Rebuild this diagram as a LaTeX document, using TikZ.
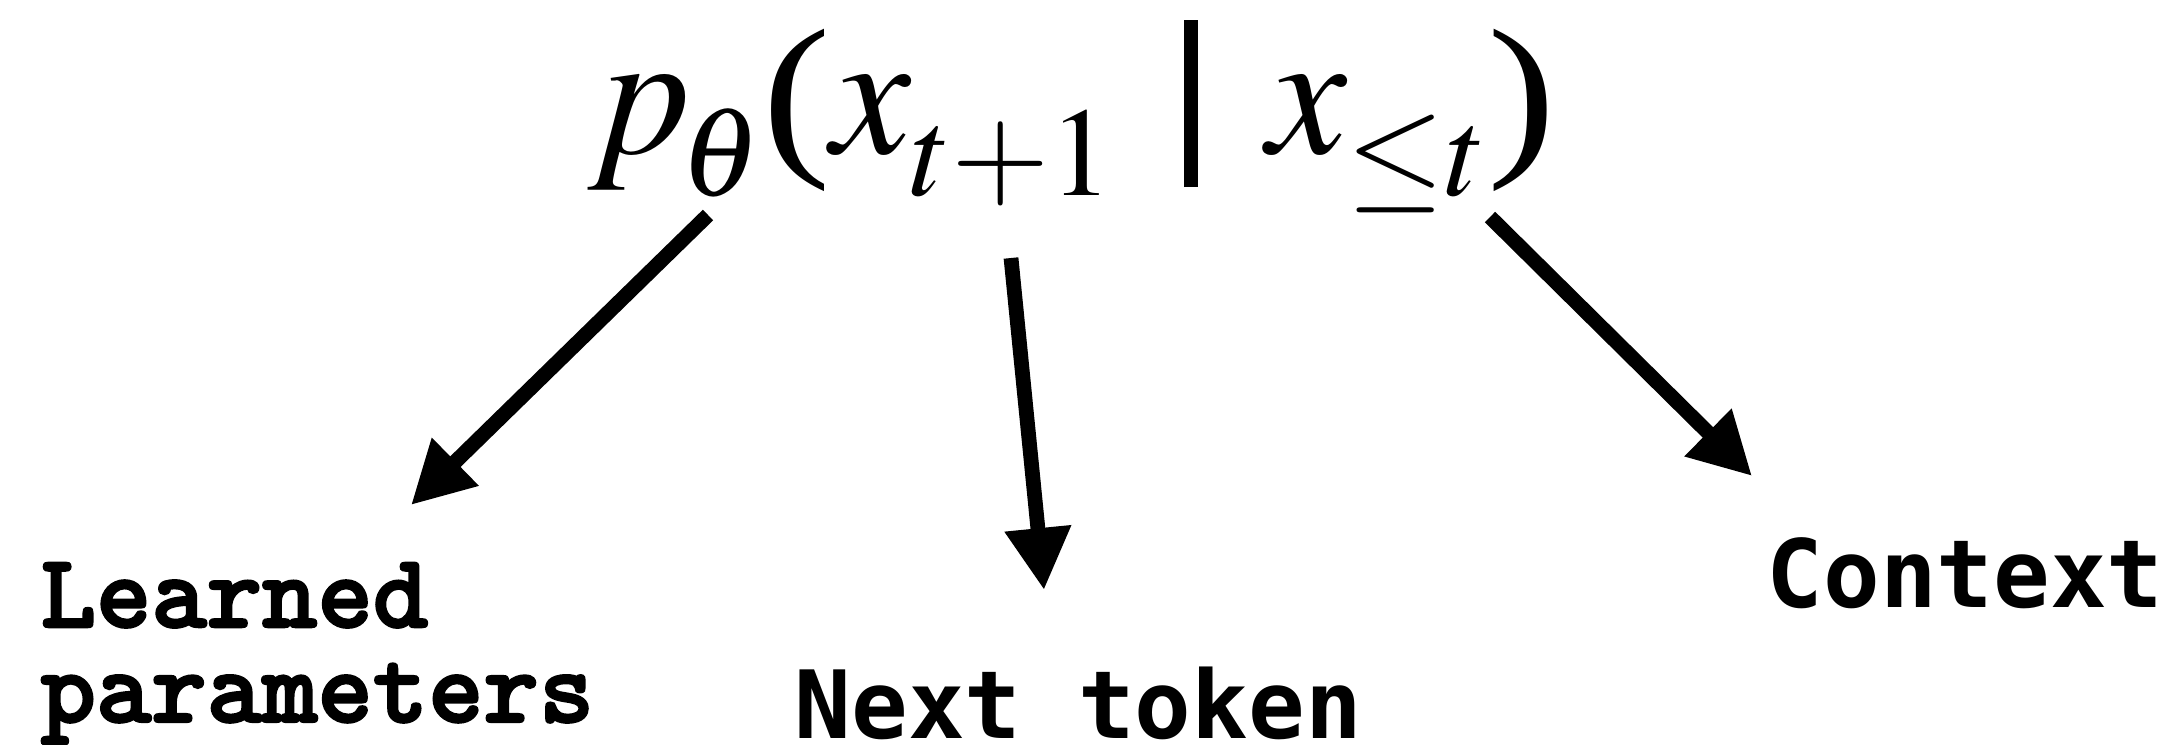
\documentclass[tikz,border=0pt]{standalone}
\usepackage{amsmath}
\usepackage{graphicx}
\usepackage{mathptmx}
\usepackage[no-math]{fontspec}
\usetikzlibrary{arrows.meta,positioning}
\newfontfamily\labelmono{DejaVu Sans Mono}
\newfontfamily\slabmono[FakeBold=2.2]{lmmonolt10-bold.otf}
\newfontfamily\timesfont{Liberation Serif}
\DeclareMathSizes{51}{51}{36}{26}
\newcommand{\lowsub}[1]{_{\lower4.5pt\hbox{$\scriptstyle #1$}}}
\newcommand{\lparen}{\mathopen{\hbox{\scalebox{1.15}[1]{\timesfont(}}}}
\newcommand{\rparen}{\mathclose{\hbox{\scalebox{1.15}[1]{\timesfont)}}}}
\newcommand{\condbar}{\mkern3mu\mathrel{\rule[-9.7pt]{3.8pt}{47.5pt}}\mkern3mu}

\tikzset{
  formula/.style={inner sep=0pt, anchor=base, font=\fontsize{51}{60}\selectfont},
  slablabel/.style={inner sep=0pt, align=left, font=\fontsize{30}{27}\selectfont\slabmono},
  monolabel/.style={inner sep=0pt, font=\fontsize{26.8}{30}\selectfont\labelmono\bfseries},
  bigarrow/.style={line width=4.2pt, -{Triangle[length=6.2mm,width=6.3mm]}}
}

\begin{document}
\begin{tikzpicture}
\useasboundingbox (0,0) rectangle (21.63,-7.44);
% Conditional probability
\node[formula] (prob) at (10.72,-1.53)
  {$p\lowsub{\mkern-1.5mu\theta}\lparen x\lowsub{t+1} \condbar x\lowsub{\leq t}\rparen$};

% Labels
\node[slablabel, anchor=north west] (params) at (0.40,-5.62) {Learned\\parameters};
\node[monolabel, anchor=base west] (next) at (7.94,-7.38) {Next token};
\node[monolabel, anchor=base west] (ctx) at (17.66,-6.07) {Context};

% Arrow ends
\coordinate (thetaTail) at (7.08,-2.15);
\coordinate (paramsTip) at (4.11,-5.05);
\coordinate (tokenTail) at (10.11,-2.58);
\coordinate (tokenTip) at (10.44,-5.90);
\coordinate (ctxTail) at (14.90,-2.17);
\coordinate (ctxTip) at (17.52,-4.76);

\draw[bigarrow] (thetaTail) -- (paramsTip);
\draw[bigarrow] (tokenTail) -- (tokenTip);
\draw[bigarrow] (ctxTail) -- (ctxTip);
\end{tikzpicture}
\end{document}
